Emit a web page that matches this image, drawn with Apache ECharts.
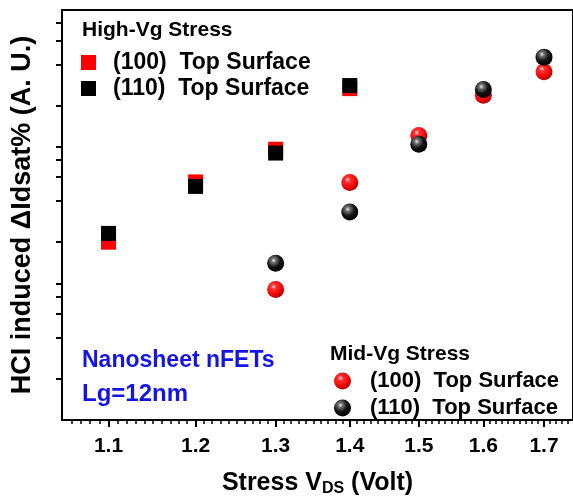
<!DOCTYPE html>
<html><head><meta charset="utf-8">
<script src="https://cdn.jsdelivr.net/npm/echarts@6/dist/echarts.min.js"></script>
<style>html,body{margin:0;padding:0;background:#fff}#c{width:573px;height:502px}</style>
</head><body><div id="c"></div>
<script>
// ---- data ----
const highVgX = [1.1, 1.2, 1.3, 1.4];
const highVg100 = [10.0, 27.6, 47.9, 133];
const highVg110 = [11.6, 25.6, 44.9, 140];
const midVgX = [1.3, 1.4, 1.5, 1.6, 1.7];
const midVg100 = [4.5, 27.3, 60.4, 119, 177];
const midVg110 = [7.0, 16.6, 52, 131, 226];
const xTickLabels = [1.1, 1.2, 1.3, 1.4, 1.5, 1.6, 1.7];
const yTickValues = [1, 2, 3, 4, 5, 10, 20, 30, 40, 50, 100, 200, 300, 400];
const legendNames = {hv100: '(100)  Top Surface', hv110: '(110)  Top Surface', mv100: '(100)  Top Surface', mv110: '(110)  Top Surface'};

const xMinor = [];
for (let i = 106; i <= 174; i++) { if (i % 10 !== 0) xMinor.push(i / 100); }

const FONT = "'Liberation Sans', Arial, sans-serif";
const pair = (xs, ys) => xs.map((x, i) => [x, ys[i]]);

const redBall = {type: 'radial', x: 0.38, y: 0.33, r: 0.7, colorStops: [
  {offset: 0, color: '#ffd8d8'}, {offset: 0.22, color: '#ff3030'}, {offset: 0.75, color: '#e80000'}, {offset: 1, color: '#a00000'}]};
const blackBall = {type: 'radial', x: 0.38, y: 0.33, r: 0.7, colorStops: [
  {offset: 0, color: '#e8e8e8'}, {offset: 0.2, color: '#707070'}, {offset: 0.55, color: '#141414'}, {offset: 1, color: '#000000'}]};

const chart = echarts.init(document.getElementById('c'));
chart.setOption({
  animation: false,
  backgroundColor: '#fff',
  textStyle: {fontFamily: FONT},
  grid: {left: 62, top: 10, width: 524, bottom: 74, show: true, borderColor: '#000', borderWidth: 2, backgroundColor: 'transparent'},
  xAxis: [{
    type: 'log', logBase: 10, min: 1.05, max: 1.75,
    axisLine: {lineStyle: {color: '#000', width: 2}},
    axisTick: {customValues: xTickLabels, length: 7, lineStyle: {color: '#000', width: 2}},
    axisLabel: {customValues: xTickLabels, formatter: v => Number(v).toFixed(1), color: '#000', fontSize: 21, fontWeight: 'bold', fontFamily: FONT, margin: 16},
    splitLine: {show: false}, minorTick: {show: false},
    name: 'Stress V{sub|DS} (Volt)', nameLocation: 'middle', nameGap: 49,
    nameTextStyle: {color: '#000', fontSize: 25, fontWeight: 'bold', fontFamily: FONT,
      rich: {sub: {fontSize: 16, fontWeight: 'bold', verticalAlign: 'bottom', padding: [12, 0, 0, 0], fontFamily: FONT}}}
  }, {
    type: 'log', logBase: 10, min: 1.05, max: 1.75, position: 'bottom',
    axisLine: {show: false},
    axisTick: {customValues: xMinor, length: 4, lineStyle: {color: '#000', width: 1.5}},
    axisLabel: {show: false}, splitLine: {show: false}
  }],
  yAxis: {
    type: 'log', logBase: 10, min: 0.5, max: 500,
    axisLine: {show: true, lineStyle: {color: '#000', width: 2}},
    axisTick: {show: true, customValues: yTickValues, length: 6, lineStyle: {color: '#000', width: 2}},
    axisLabel: {show: false}, splitLine: {show: false},
    name: 'HCI induced \u0394Idsat% (A. U.)', nameLocation: 'middle', nameGap: 26, nameRotate: 90,
    nameTextStyle: {color: '#000', fontSize: 27, fontWeight: 'bold', fontFamily: FONT}
  },
  legend: [{
    left: 81, top: 51, orient: 'vertical', padding: 0, itemWidth: 15, itemHeight: 15, itemGap: 3,
    data: ['hv100', 'hv110'], formatter: n => legendNames[n], selectedMode: false,
    textStyle: {color: '#000', fontSize: 23, fontWeight: 'bold', fontFamily: FONT, padding: [0, 0, 0, 12]}
  }, {
    left: 334, top: 370, orient: 'vertical', padding: 0, itemWidth: 17, itemHeight: 17, itemGap: 5,
    data: ['mv100', 'mv110'], formatter: n => legendNames[n], selectedMode: false,
    textStyle: {color: '#000', fontSize: 22, fontWeight: 'bold', fontFamily: FONT, padding: [0, 0, 0, 14]}
  }],
  graphic: [
    {type: 'text', left: 82, top: 20, style: {text: 'High-Vg Stress', fontSize: 21, fontWeight: 'bold', fontFamily: FONT, fill: '#000'}},
    {type: 'text', left: 330, top: 344, style: {text: 'Mid-Vg Stress', fontSize: 21, fontWeight: 'bold', fontFamily: FONT, fill: '#000'}},
    {type: 'text', left: 82, top: 349, style: {text: 'Nanosheet nFETs', fontSize: 23, fontWeight: 'bold', fontFamily: FONT, fill: '#1414e6'}},
    {type: 'text', left: 82, top: 382, style: {text: 'Lg=12nm', fontSize: 24, fontWeight: 'bold', fontFamily: FONT, fill: '#1414e6'}}
  ],
  series: [
    {name: 'hv100', type: 'scatter', symbol: 'rect', symbolSize: 15, itemStyle: {color: '#ff0000', opacity: 1}, data: pair(highVgX, highVg100), z: 2},
    {name: 'hv110', type: 'scatter', symbol: 'rect', symbolSize: 15, itemStyle: {color: '#000000', opacity: 1}, data: pair(highVgX, highVg110), z: 3},
    {name: 'mv100', type: 'scatter', symbol: 'circle', symbolSize: 17, itemStyle: {color: redBall, opacity: 1}, data: pair(midVgX, midVg100), z: 2},
    {name: 'mv110', type: 'scatter', symbol: 'circle', symbolSize: 17, itemStyle: {color: blackBall, opacity: 1}, data: pair(midVgX, midVg110), z: 3}
  ]
});
</script></body></html>
